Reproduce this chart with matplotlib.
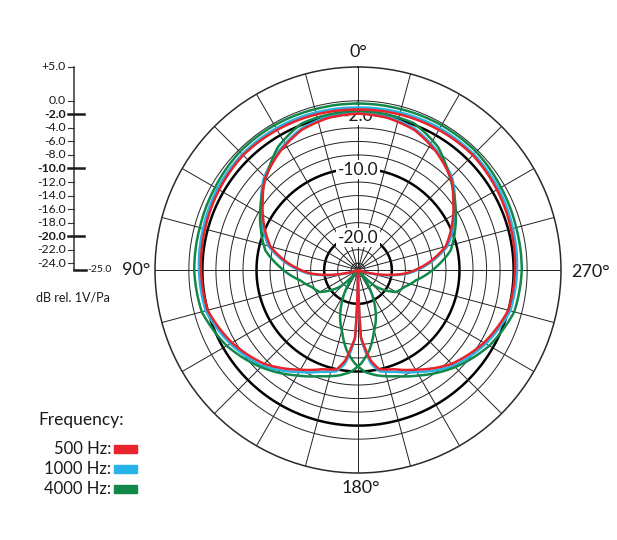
import numpy as np
import matplotlib
matplotlib.use('Agg')
import matplotlib.pyplot as plt
from matplotlib.patches import Rectangle

plt.rcParams['font.family'] = ['Lato', 'DejaVu Sans']

# left half of every pattern: degrees counter-clockwise from 0 (front), dB rel. 1V/Pa
wide_ang = [0, 15, 30, 45, 60, 75, 90, 105, 120, 135, 150, 160, 168, 172, 175, 177.5, 179.5]
wide_500 = [-1.3, -1.2, -1.1, -1.0, -1.3, -1.6, -1.8, -2.0, -3.5, -5.4, -8.0, -9.4, -10.0, -11.5, -13.5, -15.0, -25.0]
wide_1000 = [-1.0, -0.9, -0.8, -0.8, -1.0, -1.3, -1.5, -1.7, -3.2, -5.0, -7.6, -9.0, -9.7, -11.0, -13.0, -15.0, -25.0]
wide_ang_4000 = [0, 15, 30, 45, 60, 75, 90, 105, 120, 135, 150, 160, 170, 176, 182, 188, 194, 201, 213, 222]
wide_4000 = [-0.4, -0.4, -0.3, -0.3, -0.6, -0.8, -0.8, -1.1, -2.6, -4.7, -7.0, -8.3, -9.2, -9.9,
             -11.2, -13.0, -15.4, -17.6, -22.0, -25.0]

heart_ang = [0, 11, 22, 33, 46, 54, 67, 75, 84, 94, 105, 112]
heart_500 = [-1.9, -2.1, -2.7, -4.0, -5.8, -7.6, -10.1, -11.6, -14.5, -17.9, -23.3, -25.0]
heart_1000 = [-1.7, -1.9, -2.5, -3.8, -5.6, -7.3, -9.8, -11.3, -14.2, -17.6, -23.0, -25.0]
heart_ang_4000 = [0, 10, 21, 33, 43, 55, 67, 78, 88, 100, 110, 120, 133, 142]
heart_4000 = [-1.5, -1.6, -1.8, -3.3, -5.4, -7.5, -9.4, -11.0, -13.5, -16.3, -17.7, -18.5, -21.4, -25.0]

scale_ticks = [5, 0, -2, -4, -6, -8, -10, -12, -14, -16, -18, -20, -22, -24]
bold_rings = [-2, -10, -20]
freq_labels = ['500 Hz:', '1000 Hz:', '4000 Hz:']
freq_colors = ['#e8232b', '#27b4e8', '#12884a']

W, H = 617, 540
cx, cy, R = 358, 270, 203
INK = '#1a1a1a'


def mirror(ang, db):
    a = np.array(ang, float)
    d = np.array(db, float)
    theta = np.concatenate([a, 360 - a[::-1]])
    return np.radians(theta), np.concatenate([d, d[::-1]])


fig = plt.figure(figsize=(W / 100, H / 100), dpi=100)
ax = fig.add_axes([(cx - R) / W, 1 - (cy + R) / H, 2 * R / W, 2 * R / H], projection='polar')
ax.set_theta_zero_location('N')
ax.set_theta_direction(1)
ax.set_ylim(-25, 5)
ax.grid(False)
ax.set_xticks([])
ax.set_yticks([])
ax.spines['polar'].set_linewidth(1.1)
ax.spines['polar'].set_color('#2a2a2a')

full = np.linspace(0, 2 * np.pi, 721)
for db in range(-24, 1, 2):
    if db in bold_rings:
        ax.plot(full, np.full_like(full, db), color='black', lw=1.8, zorder=1)
    else:
        ax.plot(full, np.full_like(full, db), color='#222222', lw=0.7, zorder=1)
for a in range(0, 360, 15):
    ax.plot([np.radians(a)] * 2, [-25, 5], color='#222222', lw=0.7, zorder=1)

for db in bold_rings:
    ax.text(0, db - 0.2, f'{db:.1f}', ha='center', va='center', fontsize=12.5, color=INK,
            zorder=3, bbox=dict(facecolor='white', edgecolor='none', pad=1.0))

curves = [
    (wide_ang, wide_1000, freq_colors[1]), (heart_ang, heart_1000, freq_colors[1]),
    (wide_ang_4000, wide_4000, freq_colors[2]), (heart_ang_4000, heart_4000, freq_colors[2]),
    (wide_ang, wide_500, freq_colors[0]), (heart_ang, heart_500, freq_colors[0]),
]
for i, (ang, db, col) in enumerate(curves):
    th, r = mirror(ang, db)
    ln, = ax.plot(th, r, color=col, lw=1.8, zorder=4 + i, solid_joinstyle='round')
    # let the polar transform draw each segment as a curve, not a chord
    ln.get_path()._interpolation_steps = 24
    ln._transformed_path = None

# angle labels
fig.text(358 / W, 1 - 52 / H, '0°', ha='center', va='center', fontsize=13, color=INK)
fig.text(136 / W, 1 - 270 / H, '90°', ha='center', va='center', fontsize=13, color=INK)
fig.text(591 / W, 1 - 272 / H, '270°', ha='center', va='center', fontsize=13, color=INK)
fig.text(361 / W, 1 - 488 / H, '180°', ha='center', va='center', fontsize=13, color=INK)

# dB scale on the left
sc = fig.add_axes([0, 1 - cy / H, 160 / W, R / H])
sc.set_xlim(0, 160)
sc.set_ylim(-25, 5)
sc.axis('off')
sc.plot([74, 74], [-25, 5], color='#333333', lw=1.1, clip_on=False)
sc.plot([74, 86], [-25, -25], color=INK, lw=1.8, clip_on=False)
for db in scale_ticks:
    bold = db in bold_rings
    if bold:
        sc.plot([68, 84], [db, db], color=INK, lw=1.8, clip_on=False)
    else:
        sc.plot([68, 74], [db, db], color='#333333', lw=0.8, clip_on=False)
    txt = f'{db:+.1f}' if db > 0 else f'{db:.1f}'
    sc.text(66, db, txt, ha='right', va='center', fontsize=8.8, color=INK,
            fontweight='bold' if bold else 'normal')
sc.text(87, -25, '-25.0', ha='left', va='center', fontsize=7.5, color=INK)
fig.text(36 / W, 1 - 297 / H, 'dB rel. 1V/Pa', ha='left', va='center', fontsize=9, color=INK)

# frequency legend
fig.text(38 / W, 1 - 420 / H, 'Frequency:', ha='left', va='center', fontsize=12.5, color=INK)
for i, (lab, col) in enumerate(zip(freq_labels, freq_colors)):
    yy = 449 + i * 20
    fig.text(111 / W, 1 - yy / H, lab, ha='right', va='center', fontsize=12, color=INK)
    fig.add_artist(Rectangle((114 / W, 1 - (yy + 4) / H), 23 / W, 8 / H,
                             transform=fig.transFigure, color=col))

fig.savefig('out.png', dpi=100)
